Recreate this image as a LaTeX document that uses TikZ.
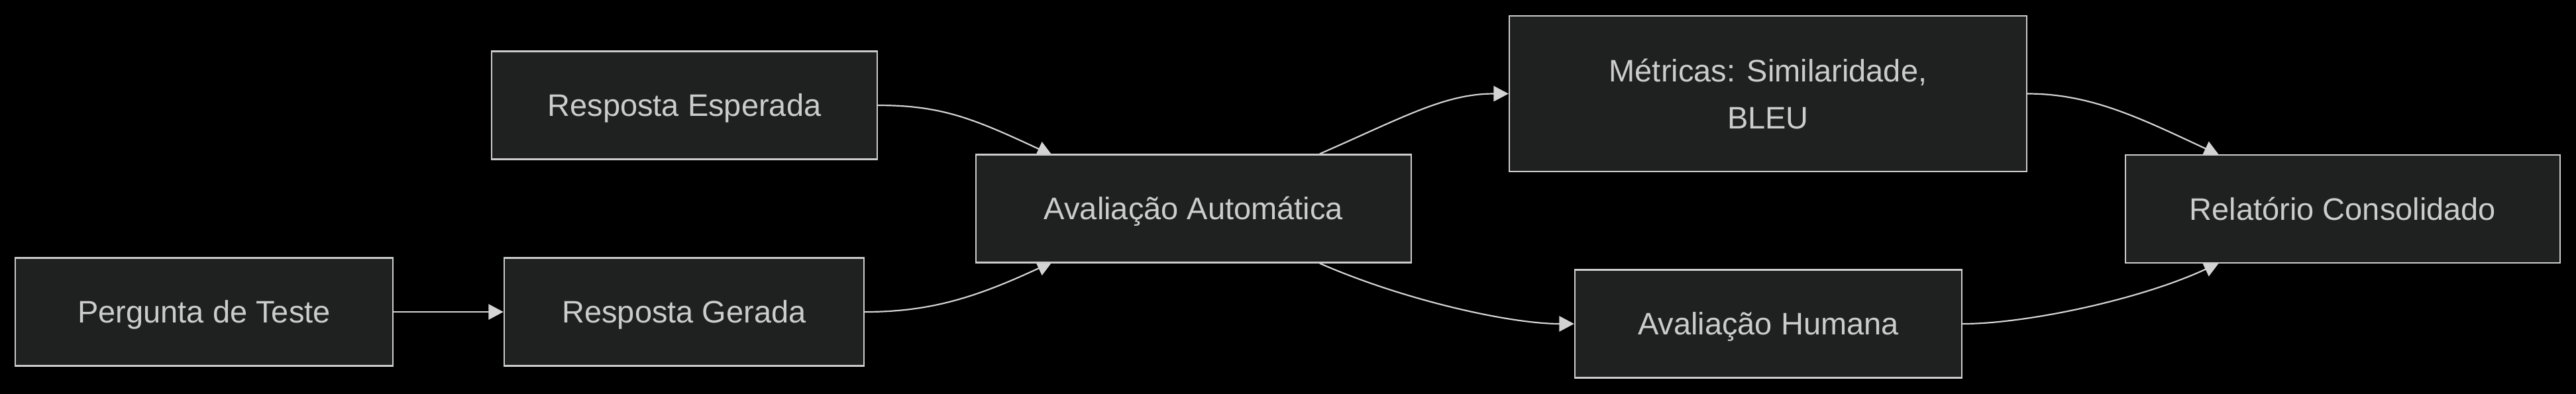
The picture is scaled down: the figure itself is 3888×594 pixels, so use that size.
\documentclass[tikz,border=0pt]{standalone}
\usepackage{fontspec}
\setmainfont{Liberation Sans}
\usetikzlibrary{arrows.meta,backgrounds}
\definecolor{boxfill}{HTML}{1F2020}
\definecolor{boxline}{HTML}{CCCCCC}
\definecolor{linkgrey}{HTML}{D3D3D3}
\begin{document}
\begin{tikzpicture}[x=0.25pt, y=-0.25pt]

      \tikzset{stage/.style={draw=boxline, line width=0.6pt, fill=boxfill, text=boxline, inner sep=0pt, minimum height=40.75pt, font=\fontsize{11.75}{17.75}\selectfont},
               oneline/.style={text height=8.4pt, text depth=0pt},
               flow/.style={draw=linkgrey, line width=0.55pt, -{Triangle[length=5.6pt, width=5.8pt]}}}
      \useasboundingbox (0,0) rectangle (3888,594);
% Stages
      	\node[stage, oneline, minimum width=142.5pt] (pergunta) at (308,471) {Pergunta de Teste};
      	\node[stage, oneline, minimum width=135.75pt] (gerada) at (1032.5,471) {Resposta Gerada};
      	\node[stage, oneline, minimum width=145.5pt] (esperada) at (1033,159) {Resposta Esperada};
      	\node[stage, oneline, minimum width=164.25pt] (auto) at (1801.5,315) {Avaliação Automática};
      	\node[stage, align=center, minimum width=195.25pt, minimum height=58.75pt] (metricas) at (2668.5,141.5) {Métricas: Similaridade,\\BLEU};
      	\node[stage, oneline, minimum width=146pt] (humana) at (2669,489) {Avaliação Humana};
      	\node[stage, oneline, minimum width=164pt] (relatorio) at (3536,315.5) {Relatório Consolidado};
%Links
      \begin{pgfonlayer}{background}
		\fill[black] (-20,-20) rectangle (3908,614);
		\draw[flow] (pergunta.east) -- (gerada.west);
		\draw[flow] (esperada.east) .. controls +(24pt,0) and +(-29.5pt,13.75pt) .. ([xshift=-53.4pt, yshift=-0.5pt]auto.north);
		\draw[flow] (gerada.east) .. controls +(24pt,0) and +(-29.5pt,-13.75pt) .. ([xshift=-53.4pt, yshift=0.5pt]auto.south);
		\draw[flow] ([xshift=47.6pt]auto.north) .. controls +(32pt,14pt) and +(-24pt,0) .. (metricas.west);
		\draw[flow] ([xshift=47.6pt]auto.south) .. controls +(32pt,-14pt) and +(-24pt,0) .. (humana.west);
		\draw[flow] (metricas.east) .. controls +(24pt,0) and +(-29.5pt,13.75pt) .. ([xshift=-46.75pt, yshift=-0.25pt]relatorio.north);
		\draw[flow] (humana.east) .. controls +(24pt,0) and +(-29.5pt,-13.75pt) .. ([xshift=-46.75pt, yshift=0.25pt]relatorio.south);
      \end{pgfonlayer}

	\end{tikzpicture}
\end{document}
